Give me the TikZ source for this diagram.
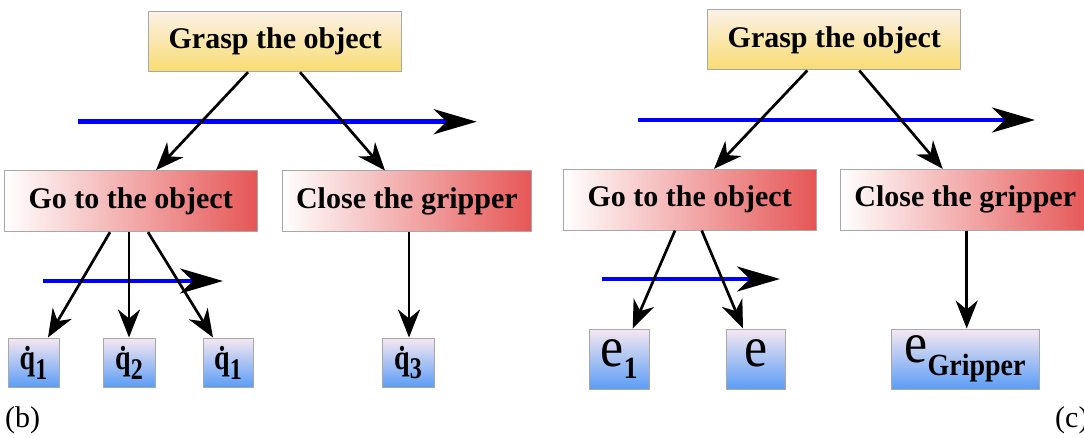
\documentclass[tikz,border=0pt]{standalone}
\usepackage{fontspec}
\setmainfont{Liberation Serif}
\usetikzlibrary{arrows.meta,shadings}
\definecolor{boxgray}{HTML}{A8A8A8}
\definecolor{ylight}{HTML}{FCF1E6}
\definecolor{ydark}{HTML}{F8DC72}
\definecolor{rdark}{HTML}{E65656}
\definecolor{blight}{HTML}{F6E8F0}
\definecolor{bdark}{HTML}{5B9DF6}
\tikzset{
  lbl/.style={font=\fontsize{30}{32}\selectfont\bfseries},
  topbox/.style={draw=boxgray, line width=1pt, top color=ylight, bottom color=ydark, inner sep=0pt, lbl},
  midbox/.style={draw=boxgray, line width=1pt, left color=white, right color=rdark, inner sep=0pt, lbl},
  leafbox/.style={draw=boxgray, line width=1pt, top color=blight, bottom color=bdark, inner sep=0pt},
  conn/.style={line width=2.7pt, -{Stealth[length=28pt,width=22pt,inset=9pt]}},
  timeline/.style={line width=4.6pt, draw=blue, -{Stealth[length=43pt,width=25pt,inset=13pt,black]}},
  panellabel/.style={font=\fontsize{30}{32}\selectfont, anchor=base west, inner sep=0pt}
}
\newcommand{\qd}[1]{\scalebox{1}[1.25]{\fontsize{28}{30}\selectfont\bfseries\.{q}\raisebox{-0.28em}{\fontsize{24}{26}\selectfont #1}}}
\newcommand{\ee}[1]{\scalebox{1}[1.1]{\fontsize{52}{54}\selectfont e\raisebox{-0.22em}{\fontsize{28}{30}\selectfont\bfseries #1}}}
\begin{document}
\begin{tikzpicture}[x=1pt,y=-1pt]
\useasboundingbox (0,0) rectangle (1084,438);
\clip (0,0) rectangle (1084,438);
% ---------- panel (b) ----------
\node[topbox, minimum width=252.7pt, minimum height=60pt] (g1) at (275.3,41.7) {Grasp the object};
\node[midbox, minimum width=252.7pt, minimum height=61pt] (go1) at (130.7,201.2) {Go to the object};
\node[midbox, minimum width=249.7pt, minimum height=61pt] (cl1) at (406.9,201.5) {Close the gripper};
\node[leafbox, minimum width=51pt, minimum height=49pt] (q1) at (33.5,362.5) {\qd{1}};
\node[leafbox, minimum width=52pt, minimum height=49pt] (q2) at (129,362.5) {\qd{2}};
\node[leafbox, minimum width=50pt, minimum height=49pt] (q3) at (228,362.5) {\qd{1}};
\node[leafbox, minimum width=52pt, minimum height=49pt] (q4) at (408,362.5) {\qd{3}};
\coordinate (b1s) at (78,121.7);
\coordinate (b1e) at (476.7,121.7);
\coordinate (b2s) at (43,281);
\coordinate (b2e) at (223,281);
\draw[timeline] (b1s) -- (b1e);
\draw[timeline] (b2s) -- (b2e);
\draw[conn] ([xshift=-27.3pt]g1.south) -- ([xshift=25.3pt]go1.north);
\draw[conn] ([xshift=24.7pt]g1.south) -- ([xshift=-21.9pt]cl1.north);
\draw[conn] ([xshift=-20.7pt]go1.south) -- ([xshift=14.5pt]q1.north);
\draw[conn] ([xshift=-1.7pt]go1.south) -- (q2.north);
\draw[conn] ([xshift=17.3pt]go1.south) -- ([xshift=-15pt]q3.north);
\draw[conn] ([xshift=2.1pt]cl1.south) -- ([xshift=1pt]q4.north);
\node[panellabel] (lb) at (5,427) {(b)};
% ---------- panel (c) ----------
\node[topbox, minimum width=252.7pt, minimum height=60pt] (g2) at (834.3,40) {Grasp the object};
\node[midbox, minimum width=252.7pt, minimum height=60.7pt] (go2) at (689.7,199.7) {Go to the object};
\node[midbox, minimum width=249.3pt, minimum height=60.7pt] (cl2) at (965.3,199.7) {Close the gripper};
\node[leafbox, minimum width=60pt, minimum height=60pt] (e1) at (619,359) {\ee{1}};
\node[leafbox, minimum width=58.4pt, minimum height=60pt] (e2) at (755.8,359) {\ee{}};
\node[leafbox, minimum width=148pt, minimum height=60pt] (eg) at (965,359) {\ee{Gripper}};
\coordinate (b3s) at (637.7,120);
\coordinate (b3e) at (1035,120);
\coordinate (b4s) at (601.7,279);
\coordinate (b4e) at (780,279);
\draw[timeline] (b3s) -- (b3e);
\draw[timeline] (b4s) -- (b4e);
\draw[conn] ([xshift=-27pt]g2.south) -- ([xshift=24.3pt]go2.north);
\draw[conn] ([xshift=25pt]g2.south) -- ([xshift=-22.6pt]cl2.north);
\draw[conn] ([xshift=-14.7pt]go2.south) -- ([xshift=13.7pt]e1.north);
\draw[conn] ([xshift=12pt]go2.south) -- ([xshift=-12.8pt]e2.north);
\draw[conn] ([xshift=1.4pt]cl2.south) -- ([xshift=1.7pt]eg.north);
\node[panellabel] (lc) at (1055,427) {(c)};
\end{tikzpicture}
\end{document}
